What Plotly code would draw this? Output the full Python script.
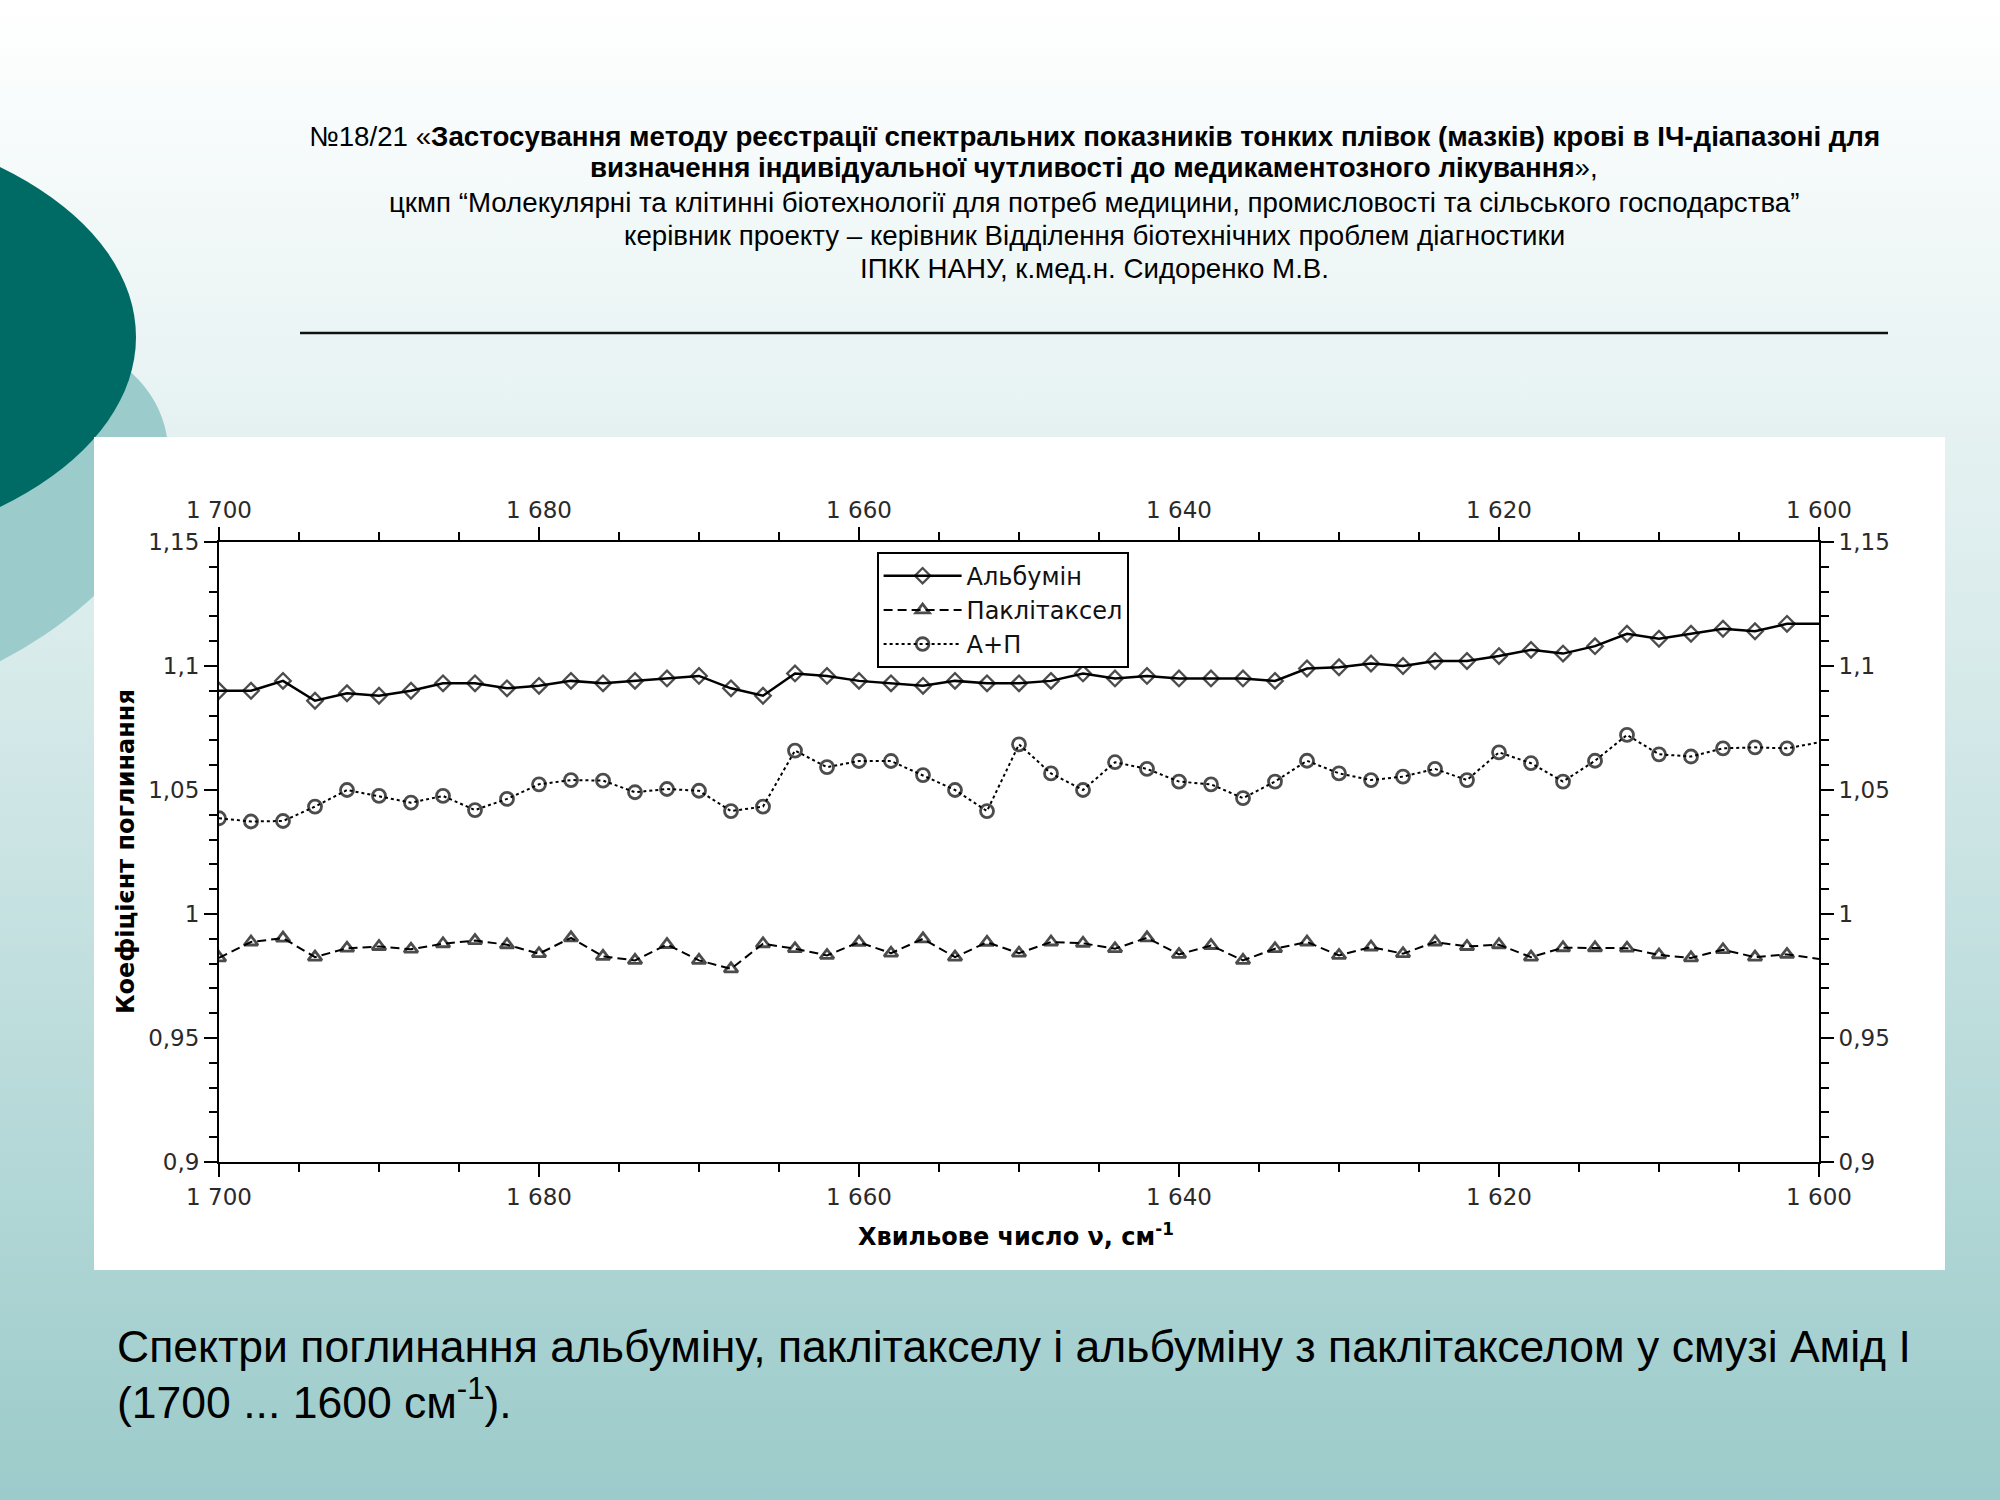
import base64
import plotly.graph_objects as go

# ---------------- data ----------------
WAVENUMBER = [1700, 1698, 1696, 1694, 1692, 1690, 1688, 1686, 1684, 1682, 1680,
              1678, 1676, 1674, 1672, 1670, 1668, 1666, 1664, 1662, 1660,
              1658, 1656, 1654, 1652, 1650, 1648, 1646, 1644, 1642, 1640,
              1638, 1636, 1634, 1632, 1630, 1628, 1626, 1624, 1622, 1620,
              1618, 1616, 1614, 1612, 1610, 1608, 1606, 1604, 1602, 1600]

ALBUMIN = [1.090, 1.090, 1.094, 1.086, 1.089, 1.088, 1.090, 1.093, 1.093, 1.091, 1.092,
           1.094, 1.093, 1.094, 1.095, 1.096, 1.091, 1.088, 1.097, 1.096, 1.094,
           1.093, 1.092, 1.094, 1.093, 1.093, 1.094, 1.097, 1.095, 1.096, 1.095,
           1.095, 1.095, 1.094, 1.099, 1.0995, 1.101, 1.100, 1.102, 1.102, 1.104,
           1.1065, 1.105, 1.108, 1.113, 1.111, 1.113, 1.115, 1.114, 1.117, 1.117]

PACLITAXEL = [0.9823, 0.9887, 0.9903, 0.9826, 0.9862, 0.9869, 0.9858, 0.9880, 0.9893, 0.9876, 0.9840,
              0.9904, 0.9829, 0.9813, 0.9877, 0.9813, 0.9779, 0.9880, 0.9860, 0.9833, 0.9886,
              0.9842, 0.9900, 0.9826, 0.9886, 0.9842, 0.9887, 0.9882, 0.9860, 0.9904, 0.9837,
              0.9873, 0.9813, 0.9860, 0.9887, 0.9833, 0.9867, 0.9840, 0.9887, 0.9869, 0.9876,
              0.9826, 0.9864, 0.9864, 0.9862, 0.9835, 0.9823, 0.9856, 0.9826, 0.9837, 0.9819]

ALB_PAC = [1.0386, 1.0373, 1.0375, 1.0433, 1.0500, 1.0476, 1.0449, 1.0476, 1.0419, 1.0464, 1.0523,
           1.0540, 1.0538, 1.0491, 1.0504, 1.0497, 1.0415, 1.0433, 1.0659, 1.0592, 1.0617,
           1.0617, 1.0560, 1.0500, 1.0415, 1.0684, 1.0567, 1.0500, 1.0612, 1.0585, 1.0534,
           1.0523, 1.0467, 1.0534, 1.0618, 1.0567, 1.0540, 1.0554, 1.0585, 1.0540, 1.0652,
           1.0608, 1.0534, 1.0618, 1.0722, 1.0644, 1.0635, 1.0668, 1.0672, 1.0668, 1.0692]

SERIES_NAMES = ["Альбумін", "Паклітаксел", "А+П"]

X_TICKS = [1700, 1680, 1660, 1640, 1620, 1600]
X_TICK_LABELS = ["1 700", "1 680", "1 660", "1 640", "1 620", "1 600"]
X_MINOR = [1700, 1695, 1690, 1685, 1680, 1675, 1670, 1665, 1660, 1655, 1650,
           1645, 1640, 1635, 1630, 1625, 1620, 1615, 1610, 1605, 1600]
Y_TICKS = [0.9, 0.95, 1.0, 1.05, 1.1, 1.15]
Y_TICK_LABELS = ["0,9", "0,95", "1", "1,05", "1,1", "1,15"]
Y_MINOR = [0.90, 0.91, 0.92, 0.93, 0.94, 0.95, 0.96, 0.97, 0.98, 0.99, 1.00,
           1.01, 1.02, 1.03, 1.04, 1.05, 1.06, 1.07, 1.08, 1.09, 1.10,
           1.11, 1.12, 1.13, 1.14, 1.15]

TITLE_LINES = [
    "№18/21 «<b>Застосування методу реєстрації спектральних показників тонких плівок (мазків) крові в ІЧ-діапазоні для</b>",
    "<b>визначення індивідуальної чутливості до медикаментозного лікування</b>»,",
    "цкмп “Молекулярні та клітинні біотехнології для потреб медицини, промисловості та сільського господарства”",
    "керівник проекту – керівник Відділення біотехнічних проблем діагностики",
    "ІПКК НАНУ, к.мед.н. Сидоренко М.В.",
]
CAPTION_LINES = [
    "Спектри поглинання альбуміну, паклітакселу і альбуміну з паклітакселом у смузі Амід І",
    "(1700 ... 1600 см<sup>-1</sup>).",
]
X_TITLE = "<b>Хвильове число ν, см<sup>-1</sup></b>"
Y_TITLE = "<b>Коефіцієнт поглинання</b>"

# ---------------- geometry helpers (pixel -> paper) ----------------
W, H = 2000, 1500
PL, PR, PT, PB = 219, 1819, 542, 1162  # plot area in pixels


def px(x):
    return (x - PL) / (PR - PL)


def py(y):
    return (PB - y) / (PB - PT)


# ---------------- background (slide) ----------------
svg = (
    '<svg xmlns="http://www.w3.org/2000/svg" width="2000" height="1500" '
    'viewBox="0 0 2000 1500" preserveAspectRatio="none">'
    '<defs><linearGradient id="g" x1="0" y1="0" x2="0" y2="1">'
    '<stop offset="0" stop-color="#ffffff"/>'
    '<stop offset="0.45" stop-color="#d7eaea"/>'
    '<stop offset="1" stop-color="#9bcbca"/>'
    '</linearGradient></defs>'
    '<rect x="0" y="0" width="2000" height="1500" fill="url(#g)"/>'
    '<ellipse cx="-120" cy="520" rx="300" ry="178" transform="rotate(-20 -120 520)" fill="#9bcbcb"/>'
    '<ellipse cx="-236" cy="337" rx="372" ry="220" fill="#006a65"/>'
    '</svg>'
)
svg_uri = "data:image/svg+xml;base64," + base64.b64encode(svg.encode("utf-8")).decode("ascii")

fig = go.Figure()

n = len(WAVENUMBER)
BLACK = "#000000"

fig.add_trace(go.Scatter(
    x=WAVENUMBER, y=ALBUMIN, name=SERIES_NAMES[0], mode="lines+markers",
    line=dict(color=BLACK, width=2.5),
    marker=dict(symbol="diamond-open", size=[12] * (n - 1) + [0],
                color=BLACK, line=dict(color=BLACK, width=2.3)),
))
fig.add_trace(go.Scatter(
    x=WAVENUMBER, y=PACLITAXEL, name=SERIES_NAMES[1], mode="lines+markers",
    line=dict(color=BLACK, width=2, dash="9px,5px"),
    marker=dict(symbol="triangle-up-open", size=[12] * (n - 1) + [0],
                color=BLACK, line=dict(color=BLACK, width=2.8)),
))
fig.add_trace(go.Scatter(
    x=WAVENUMBER, y=ALB_PAC, name=SERIES_NAMES[2], mode="lines+markers",
    line=dict(color=BLACK, width=2, dash="3px,3px"),
    marker=dict(symbol="circle-open", size=[13] * (n - 1) + [0],
                color=BLACK, line=dict(color=BLACK, width=2.8)),
))
# helper trace so the mirrored (top / right) axes are drawn
fig.add_trace(go.Scatter(
    x=WAVENUMBER, y=ALBUMIN, xaxis="x2", yaxis="y2", mode="markers",
    marker=dict(opacity=0), showlegend=False, hoverinfo="skip",
))

tick_font = dict(family="DejaVu Sans", size=23, color="#2a2a2a")
common_x = dict(
    range=[1700, 1600], tickmode="array", tickvals=X_TICKS, ticktext=X_TICK_LABELS,
    ticks="outside", ticklen=13, tickwidth=1.6, tickcolor=BLACK,
    showline=True, linecolor=BLACK, linewidth=2, showgrid=False, zeroline=False,
    tickfont=tick_font,
    minor=dict(tickmode="array", tickvals=X_MINOR, ticks="outside", ticklen=8,
               tickwidth=1.6, tickcolor=BLACK, showgrid=False),
)
common_y = dict(
    range=[0.9, 1.15], tickmode="array", tickvals=Y_TICKS, ticktext=Y_TICK_LABELS,
    ticks="outside", ticklen=13, tickwidth=1.6, tickcolor=BLACK,
    showline=True, linecolor=BLACK, linewidth=2, showgrid=False, zeroline=False,
    tickfont=tick_font,
    minor=dict(tickmode="array", tickvals=Y_MINOR, ticks="outside", ticklen=8,
               tickwidth=1.6, tickcolor=BLACK, showgrid=False),
)

fig.update_layout(
    width=W, height=H,
    margin=dict(l=PL, r=W - PR, t=PT, b=H - PB, pad=0),
    paper_bgcolor="#ffffff", plot_bgcolor="#ffffff",
    xaxis=dict(**common_x, side="bottom", anchor="y"),
    xaxis2=dict(**common_x, side="top", overlaying="x", anchor="y"),
    yaxis=dict(**common_y, side="left", anchor="x"),
    yaxis2=dict(**common_y, side="right", overlaying="y", anchor="x"),
    showlegend=True,
    legend=dict(
        x=px(877), y=py(552), xanchor="left", yanchor="top",
        bgcolor="#ffffff", bordercolor=BLACK, borderwidth=1.6,
        font=dict(family="DejaVu Sans", size=24, color="#111111"),
        itemwidth=78, tracegroupgap=0,
    ),
    hovermode=False,
)

# slide background image
fig.add_layout_image(dict(
    source=svg_uri, xref="paper", yref="paper",
    x=px(0), y=py(0), sizex=W / (PR - PL), sizey=H / (PB - PT),
    xanchor="left", yanchor="top", sizing="stretch", layer="below",
))

# white chart panel
fig.add_shape(type="rect", xref="paper", yref="paper",
              x0=px(94), x1=px(1945), y0=py(1270), y1=py(437),
              fillcolor="#ffffff", line=dict(width=0), layer="below")
# rule under the header
fig.add_shape(type="line", xref="paper", yref="paper",
              x0=px(300), x1=px(1888), y0=py(333), y1=py(333),
              line=dict(color="#111111", width=2.5))

# header text
title_y = [136, 167, 203, 236, 269]
for line, yy in zip(TITLE_LINES, title_y):
    fig.add_annotation(text=line, xref="paper", yref="paper",
                       x=px(1094), y=py(yy), xanchor="center", yanchor="middle",
                       showarrow=False,
                       font=dict(family="Liberation Sans, Arial", size=27.7, color="#000000"))

# caption
cap_y = [1346, 1399]
for line, yy in zip(CAPTION_LINES, cap_y):
    fig.add_annotation(text=line, xref="paper", yref="paper",
                       x=px(115), y=py(yy), xanchor="left", yanchor="middle",
                       showarrow=False,
                       font=dict(family="Liberation Sans, Arial", size=44.5, color="#000000"))

# axis titles
fig.add_annotation(text=X_TITLE, xref="paper", yref="paper",
                   x=px(1016), y=py(1235), xanchor="center", yanchor="middle",
                   showarrow=False,
                   font=dict(family="DejaVu Sans", size=24, color="#000000"))
fig.add_annotation(text=Y_TITLE, xref="paper", yref="paper",
                   x=px(126), y=py(852), xanchor="center", yanchor="middle",
                   textangle=-90, showarrow=False,
                   font=dict(family="DejaVu Sans", size=24, color="#000000"))

fig.write_html(
    "out.html",
    config={"displayModeBar": False},
    post_script="document.body.style.margin='0';document.body.style.padding='0';"
                "document.body.style.overflow='hidden';",
)
